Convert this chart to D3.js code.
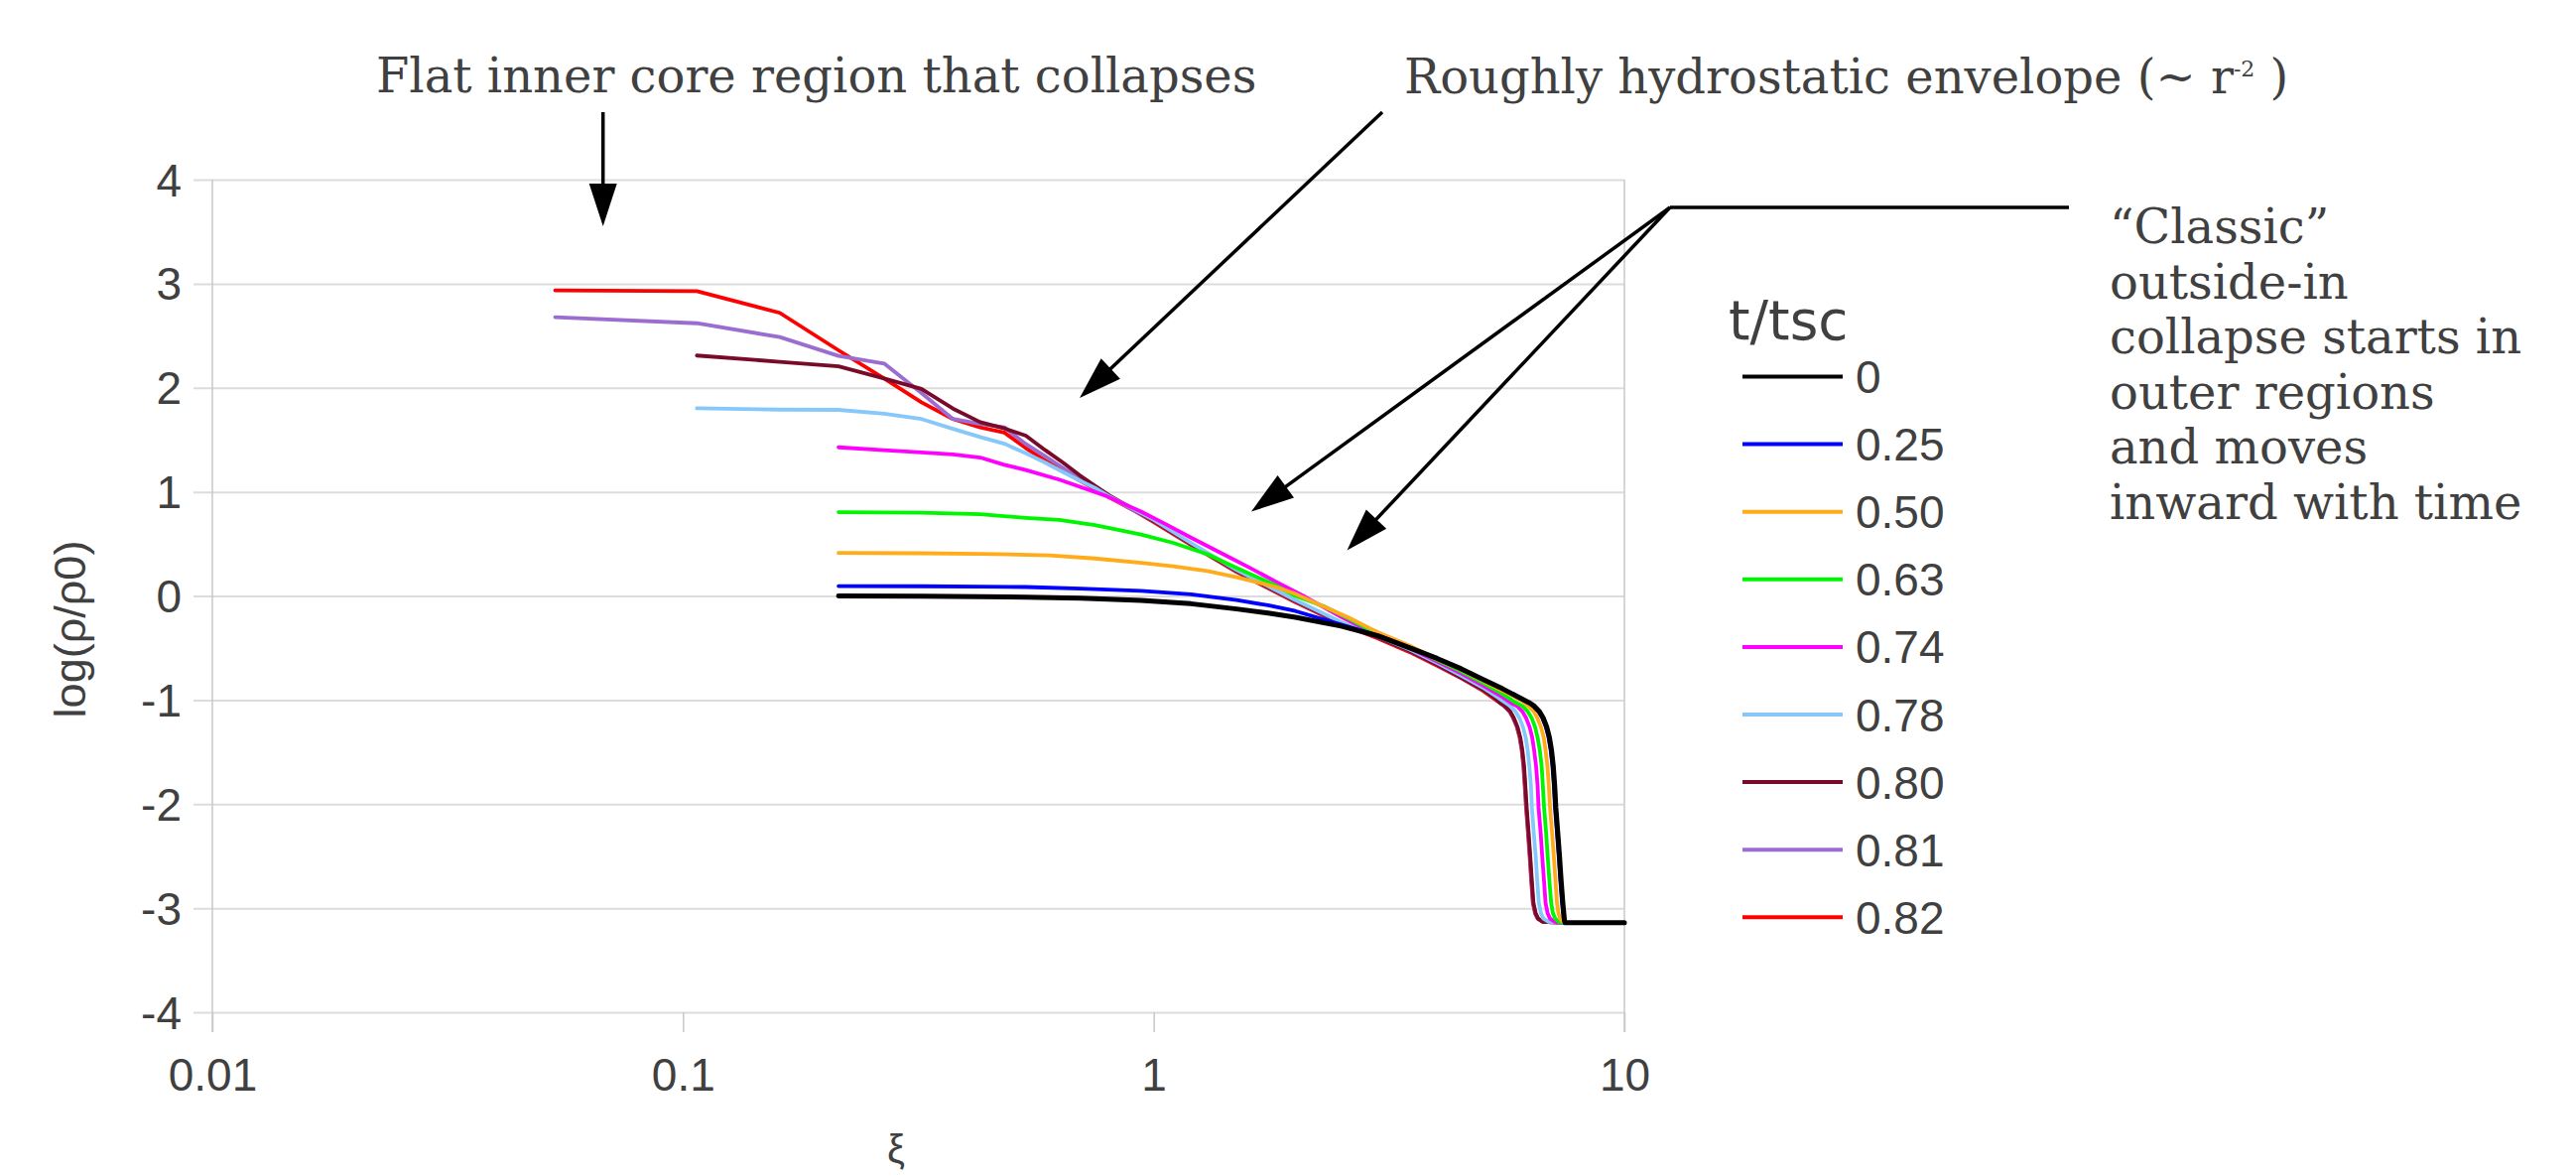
<!DOCTYPE html>
<html>
<head>
<meta charset="utf-8">
<script src="https://cdn.jsdelivr.net/npm/d3@7/dist/d3.min.js"></script>
<style>
  body { margin: 0; background: #ffffff; }
  svg { display: block; }
</style>
</head>
<body>
<div id="viz"></div>
<script>
// density profiles, pairs of [xi, log(rho/rho0)]
var t000 = [[0.214,0.0],[0.321,-0.003],[0.428,-0.007],[0.535,-0.012],[0.7,-0.022],[0.94,-0.043],[1.2,-0.075],[1.5,-0.125],[1.75,-0.165],[2.0,-0.205],[2.5,-0.29],[3.0,-0.385],[3.5,-0.50],[4.0,-0.60],[4.5,-0.70],[5.0,-0.80],[5.5,-0.89],[6.0,-0.98],[6.3,-1.03],[6.44,-1.06],[6.6,-1.11],[6.72,-1.17],[6.84,-1.26],[6.93,-1.36],[7.0,-1.48],[7.06,-1.63],[7.11,-1.82],[7.15,-2.03],[7.22,-2.28],[7.28,-2.5],[7.34,-2.74],[7.40,-2.95],[7.46,-3.12],[7.48,-3.14],[10,-3.14]];
var t025 = [[0.214,0.095],[0.321,0.093],[0.428,0.09],[0.535,0.086],[0.7,0.07],[0.94,0.048],[1.2,0.015],[1.5,-0.04],[1.75,-0.09],[2.0,-0.145],[2.5,-0.275],[3.0,-0.38],[3.5,-0.495],[4.0,-0.60],[4.5,-0.70],[5.0,-0.80],[5.5,-0.89],[6.0,-0.98],[6.3,-1.03],[6.41,-1.06],[6.57,-1.11],[6.69,-1.17],[6.81,-1.26],[6.90,-1.36],[6.97,-1.48],[7.03,-1.63],[7.08,-1.82],[7.12,-2.03],[7.19,-2.28],[7.25,-2.5],[7.31,-2.74],[7.37,-2.95],[7.43,-3.10],[7.47,-3.14],[10,-3.14]];
var t050 = [[0.214,0.413],[0.321,0.41],[0.428,0.405],[0.6,0.39],[0.75,0.36],[0.94,0.318],[1.1,0.285],[1.3,0.239],[1.5,0.18],[1.79,0.095],[2.0,0.02],[2.28,-0.095],[2.6,-0.21],[2.9,-0.318],[3.0,-0.35],[3.5,-0.48],[4.0,-0.605],[4.5,-0.71],[5.0,-0.815],[5.5,-0.91],[5.8,-0.96],[6.1,-1.02],[6.26,-1.06],[6.42,-1.11],[6.53,-1.17],[6.65,-1.26],[6.74,-1.36],[6.80,-1.48],[6.86,-1.63],[6.91,-1.82],[6.95,-2.03],[7.02,-2.28],[7.08,-2.5],[7.14,-2.74],[7.19,-2.95],[7.25,-3.06],[7.32,-3.11],[7.4,-3.13],[7.48,-3.14],[10,-3.14]];
var t063 = [[0.214,0.805],[0.321,0.80],[0.428,0.786],[0.535,0.75],[0.63,0.73],[0.75,0.68],[0.85,0.63],[0.94,0.59],[1.1,0.51],[1.3,0.40],[1.5,0.27],[1.8,0.11],[2.0,0.0],[2.3,-0.10],[2.6,-0.22],[3.0,-0.37],[3.5,-0.49],[4.0,-0.615],[4.5,-0.725],[5.0,-0.835],[5.5,-0.94],[5.85,-1.02],[6.08,-1.06],[6.23,-1.11],[6.35,-1.17],[6.46,-1.26],[6.54,-1.36],[6.61,-1.48],[6.67,-1.63],[6.71,-1.82],[6.75,-2.03],[6.82,-2.28],[6.87,-2.5],[6.93,-2.74],[6.99,-2.95],[7.05,-3.05],[7.13,-3.10],[7.25,-3.13],[7.48,-3.14],[10,-3.14]];
var t074 = [[0.214,1.428],[0.2675,1.40],[0.321,1.38],[0.3745,1.36],[0.428,1.33],[0.4815,1.26],[0.535,1.21],[0.632,1.116],[0.786,0.967],[0.94,0.81],[1.06,0.69],[1.2,0.56],[1.39,0.413],[1.6,0.27],[1.83,0.13],[2.1,-0.01],[2.5,-0.20],[3.0,-0.38],[3.5,-0.50],[4.0,-0.63],[4.5,-0.745],[5.0,-0.86],[5.5,-0.97],[5.75,-1.03],[5.92,-1.06],[6.07,-1.11],[6.18,-1.17],[6.29,-1.26],[6.37,-1.36],[6.43,-1.48],[6.49,-1.63],[6.54,-1.82],[6.57,-2.03],[6.64,-2.28],[6.69,-2.5],[6.75,-2.74],[6.80,-2.95],[6.87,-3.05],[6.95,-3.10],[7.1,-3.13],[7.48,-3.14],[10,-3.14]];
var t078 = [[0.107,1.803],[0.1605,1.79],[0.214,1.788],[0.2675,1.75],[0.321,1.70],[0.3745,1.606],[0.428,1.527],[0.4815,1.463],[0.535,1.37],[0.5885,1.28],[0.642,1.19],[0.6955,1.11],[0.749,1.04],[0.8025,0.96],[0.9,0.84],[1.0,0.73],[1.2,0.51],[1.5,0.25],[2.0,-0.04],[2.5,-0.25],[3.0,-0.39],[3.5,-0.515],[4.0,-0.645],[4.5,-0.765],[5.0,-0.88],[5.4,-0.98],[5.6,-1.03],[5.73,-1.06],[5.87,-1.11],[5.98,-1.17],[6.09,-1.26],[6.17,-1.36],[6.23,-1.48],[6.28,-1.63],[6.33,-1.82],[6.36,-2.03],[6.42,-2.28],[6.48,-2.5],[6.53,-2.74],[6.58,-2.95],[6.65,-3.05],[6.73,-3.10],[6.9,-3.13],[7.48,-3.14],[10,-3.14]];
var t080 = [[0.107,2.31],[0.1605,2.25],[0.214,2.207],[0.2675,2.09],[0.321,1.99],[0.3745,1.80],[0.428,1.67],[0.4815,1.61],[0.535,1.54],[0.5885,1.40],[0.642,1.28],[0.6955,1.16],[0.749,1.06],[0.8025,0.97],[0.9,0.84],[1.0,0.72],[1.2,0.50],[1.5,0.24],[2.0,-0.05],[2.5,-0.26],[3.0,-0.40],[3.5,-0.53],[4.0,-0.66],[4.5,-0.785],[5.0,-0.90],[5.3,-0.98],[5.45,-1.03],[5.58,-1.06],[5.72,-1.11],[5.82,-1.17],[5.93,-1.26],[6.01,-1.36],[6.07,-1.48],[6.12,-1.63],[6.16,-1.82],[6.20,-2.03],[6.26,-2.28],[6.31,-2.5],[6.36,-2.74],[6.41,-2.95],[6.48,-3.05],[6.56,-3.10],[6.7,-3.13],[7.48,-3.14],[10,-3.14]];
var t081 = [[0.0535,2.678],[0.107,2.62],[0.1605,2.487],[0.214,2.306],[0.2675,2.233],[0.321,1.95],[0.3745,1.70],[0.428,1.654],[0.4815,1.62],[0.535,1.46],[0.5885,1.34],[0.642,1.23],[0.6955,1.13],[0.749,1.04],[0.8025,0.96],[0.9,0.83],[1.0,0.72],[1.2,0.50],[1.5,0.24],[2.0,-0.05],[2.5,-0.26],[3.0,-0.40],[3.5,-0.53],[4.0,-0.66],[4.5,-0.785],[5.0,-0.90],[5.3,-0.98],[5.45,-1.03],[5.57,-1.06],[5.71,-1.11],[5.81,-1.17],[5.92,-1.26],[6.00,-1.36],[6.06,-1.48],[6.11,-1.63],[6.15,-1.82],[6.19,-2.03],[6.25,-2.28],[6.30,-2.5],[6.35,-2.74],[6.40,-2.95],[6.47,-3.05],[6.55,-3.10],[6.7,-3.13],[7.48,-3.14],[10,-3.14]];
var t082 = [[0.0535,2.936],[0.107,2.929],[0.1605,2.72],[0.214,2.36],[0.2675,2.09],[0.321,1.86],[0.3745,1.70],[0.428,1.62],[0.4815,1.57],[0.535,1.42],[0.5885,1.30],[0.642,1.20],[0.6955,1.11],[0.749,1.03],[0.8025,0.95],[0.9,0.83],[1.0,0.71],[1.2,0.49],[1.5,0.23],[2.0,-0.06],[2.5,-0.27],[3.0,-0.41],[3.5,-0.54],[4.0,-0.67],[4.5,-0.79],[5.0,-0.91],[5.3,-0.99],[5.45,-1.03],[5.56,-1.06],[5.70,-1.11],[5.80,-1.17],[5.91,-1.26],[5.99,-1.36],[6.05,-1.48],[6.10,-1.63],[6.14,-1.82],[6.18,-2.03],[6.24,-2.28],[6.29,-2.5],[6.34,-2.74],[6.39,-2.95],[6.46,-3.05],[6.54,-3.10],[6.7,-3.13],[7.48,-3.14],[10,-3.14]];

var timeLabels = ["0", "0.25", "0.50", "0.63", "0.74", "0.78", "0.80", "0.81", "0.82"];
var seriesColors = ["#000000", "#0000ff", "#ffab1a", "#00f500", "#ff00ff", "#87c8fa", "#7a0a2a", "#9c6dd0", "#ff0000"];
var allSeries = [t000, t025, t050, t063, t074, t078, t080, t081, t082];

var xTickVals = [0.01, 0.1, 1, 10];
var xTickLabels = ["0.01", "0.1", "1", "10"];
var yTickVals = [4, 3, 2, 1, 0, -1, -2, -3, -4];
var yTickLabels = ["4", "3", "2", "1", "0", "-1", "-2", "-3", "-4"];

// layout variables
var width = 2596;
var height = 1185;
var plotLeft = 214;
var plotRight = 1637;
var plotTop = 181;
var plotBottom = 1020;
var textColor = "#404040";
var serif = "'DejaVu Serif', serif";
var sans = "'Liberation Sans', Arial, sans-serif";

var x = d3.scaleLog().domain([0.01, 10]).range([plotLeft, plotRight]);
var y = d3.scaleLinear().domain([-4, 4]).range([plotBottom, plotTop]);

var svg = d3.select("#viz")
  .append("svg")
  .attr("width", width)
  .attr("height", height);

svg.append("rect")
  .attr("width", width)
  .attr("height", height)
  .attr("fill", "#ffffff");

// y gridlines + labels
var yAxis = svg.append("g")
  .attr("transform", "translate(" + (plotLeft - 19) + ",0)")
  .call(d3.axisLeft(y)
    .tickValues(yTickVals)
    .tickSize(-(plotRight - plotLeft + 19))
    .tickPadding(12)
    .tickFormat(function(d, i) { return yTickLabels[i]; }));

yAxis.select(".domain").remove();
yAxis.selectAll(".tick line")
  .attr("stroke", "#dcdcdc")
  .attr("stroke-width", 2);
yAxis.selectAll(".tick text")
  .attr("fill", textColor)
  .attr("font-family", sans)
  .attr("font-size", "46px")
  .attr("dy", "0.35em");

// x ticks + labels
var xAxis = svg.append("g")
  .attr("transform", "translate(0," + plotBottom + ")")
  .call(d3.axisBottom(x)
    .tickValues(xTickVals)
    .tickSize(20)
    .tickPadding(46)
    .tickFormat(function(d, i) { return xTickLabels[i]; }));

xAxis.select(".domain").remove();
xAxis.selectAll(".tick line")
  .attr("stroke", "#c8c8c8")
  .attr("stroke-width", 1.5);
xAxis.selectAll(".tick text")
  .attr("fill", textColor)
  .attr("font-family", sans)
  .attr("font-size", "46px")
  .attr("dy", "0.71em")
  .attr("y", 46);

// vertical frame lines at both ends of the x range
svg.selectAll(".frame")
  .data([0.01, 10])
  .enter()
  .append("line")
  .attr("class", "frame")
  .attr("x1", function(d) { return x(d); })
  .attr("x2", function(d) { return x(d); })
  .attr("y1", plotTop)
  .attr("y2", plotBottom + 20)
  .attr("stroke", "#c8c8c8")
  .attr("stroke-width", 1.5);

// axis titles
svg.append("text")
  .text("log(ρ/ρ0)")
  .attr("transform", "translate(86,634) rotate(-90)")
  .attr("text-anchor", "middle")
  .attr("fill", textColor)
  .attr("font-family", sans)
  .attr("font-size", "45px");

svg.append("text")
  .text("ξ")
  .attr("x", 903)
  .attr("y", 1172)
  .attr("text-anchor", "middle")
  .attr("fill", textColor)
  .attr("font-family", sans)
  .attr("font-size", "40px");

// series lines, latest time first so the t=0 curve ends on top
var line = d3.line()
  .x(function(d) { return x(d[0]); })
  .y(function(d) { return y(d[1]); });

var order = d3.range(allSeries.length).reverse();

svg.append("g")
  .selectAll("path")
  .data(order)
  .enter()
  .append("path")
  .attr("d", function(i) { return line(allSeries[i]); })
  .attr("fill", "none")
  .attr("stroke", function(i) { return seriesColors[i]; })
  .attr("stroke-width", function(i) { return i === 0 ? 5 : 3.8; })
  .attr("stroke-linejoin", "round")
  .attr("stroke-linecap", "round");

// legend
var legend = svg.append("g");

legend.append("text")
  .text("t/tsc")
  .attr("x", 1742)
  .attr("y", 342)
  .attr("fill", textColor)
  .attr("font-family", "'DejaVu Sans', sans-serif")
  .attr("font-size", "55px");

var legendRows = legend.selectAll(".row")
  .data(timeLabels)
  .enter()
  .append("g")
  .attr("class", "row")
  .attr("transform", function(d, i) {
    return "translate(0," + (379.5 + i * 68.1) + ")";
  });

legendRows.append("line")
  .attr("x1", 1756)
  .attr("x2", 1857)
  .attr("stroke", function(d, i) { return seriesColors[i]; })
  .attr("stroke-width", 4);

legendRows.append("text")
  .text(function(d) { return d; })
  .attr("x", 1870)
  .attr("y", 16.5)
  .attr("fill", textColor)
  .attr("font-family", sans)
  .attr("font-size", "46px");

// annotations
function arrow(x1, y1, x2, y2) {
  var headLen = 43, headHalf = 14;
  var dx = x2 - x1, dy = y2 - y1;
  var len = Math.sqrt(dx*dx + dy*dy);
  var ux = dx / len, uy = dy / len;
  var bx = x2 - ux * headLen, by = y2 - uy * headLen;
  svg.append("line")
    .attr("x1", x1).attr("y1", y1)
    .attr("x2", bx + ux * 4).attr("y2", by + uy * 4)
    .attr("stroke", "#000")
    .attr("stroke-width", 3.5);
  svg.append("path")
    .attr("d", "M" + x2 + "," + y2 +
      "L" + (bx - uy * headHalf) + "," + (by + ux * headHalf) +
      "L" + (bx + uy * headHalf) + "," + (by - ux * headHalf) + "Z")
    .attr("fill", "#000");
}

svg.append("text")
  .text("Flat inner core region that collapses")
  .attr("x", 379)
  .attr("y", 93)
  .attr("fill", textColor)
  .attr("font-family", serif)
  .attr("font-size", "48px");

arrow(607.7, 113, 607.7, 228);

var hydro = svg.append("text")
  .attr("x", 1415)
  .attr("y", 94)
  .attr("fill", textColor)
  .attr("font-family", serif)
  .attr("font-size", "48px");
hydro.append("tspan").text("Roughly hydrostatic envelope (~ r");
hydro.append("tspan").text("-2").attr("font-size", "22px").attr("dy", -17);
hydro.append("tspan").text(" )").attr("dy", 17);

arrow(1393, 113, 1088, 401);

svg.append("line")
  .attr("x1", 2085).attr("y1", 209)
  .attr("x2", 1683).attr("y2", 209)
  .attr("stroke", "#000")
  .attr("stroke-width", 3.5);
arrow(1683, 209, 1261, 515.5);
arrow(1683, 209, 1357.5, 554.5);

var classicLines = ["\u201cClassic\u201d", "outside-in", "collapse starts in",
  "outer regions", "and moves", "inward with time"];

svg.append("text")
  .attr("fill", textColor)
  .attr("font-family", serif)
  .attr("font-size", "48px")
  .selectAll("tspan")
  .data(classicLines)
  .enter()
  .append("tspan")
  .attr("x", 2126)
  .attr("y", function(d, i) { return 245 + i * 55.6; })
  .text(function(d) { return d; });
</script>
</body>
</html>
